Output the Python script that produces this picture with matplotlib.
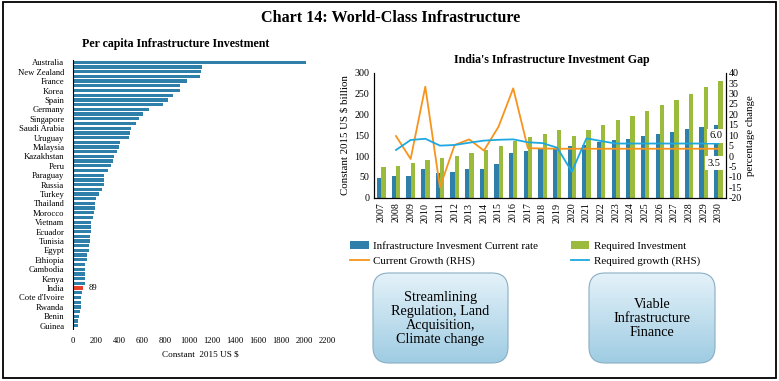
import numpy as np
import matplotlib
matplotlib.use("Agg")
import matplotlib.pyplot as plt
from matplotlib.patches import FancyBboxPatch, Rectangle

plt.rcParams['font.family'] = ['Liberation Serif', 'DejaVu Serif']
plt.rcParams['axes.unicode_minus'] = False

# left panel: per capita infrastructure investment (constant 2015 US $)
countries = ["Australia", "New Zealand", "France", "Korea", "Spain", "Germany",
             "Singapore", "Saudi Arabia", "Uruguay", "Malaysia", "Kazakhstan",
             "Peru", "Paraguay", "Russia", "Turkey", "Thailand", "Morocco",
             "Vietnam", "Ecuador", "Tunisia", "Egypt", "Ethiopia", "Cambodia",
             "Kenya", "India", "Cote d'Ivoire", "Rwanda", "Benin", "Guinea"]
per_capita = [2010, 1113, 1107, 1101, 984, 929, 926, 869, 825, 782, 661, 604,
              569, 546, 500, 495, 483, 411, 400, 380, 357, 351, 331, 302, 270,
              270, 270, 253, 230, 198, 196, 193, 187, 178, 161, 158, 155, 150,
              147, 141, 138, 124, 121, 109, 109, 106, 106, 106, 89, 78, 75, 72,
              69, 60, 52, 46, 43]
india_value = 89

# right panel: India's infrastructure investment gap
years = list(range(2007, 2031))
current_rate = [48, 52, 52, 70, 59, 62, 68, 70, 80, 107, 112, 116, 119, 124,
                127, 133, 138, 142, 147, 153, 158, 164, 170, 175]
required_inv = [74, 77, 84, 91, 96, 101, 108, 115, 125, 137, 146, 154, 162, 148,
                162, 175, 186, 197, 209, 222, 235, 250, 265, 281]
current_growth = [np.nan, 9.6, -1.4, 33.3, -15.0, 5.3, 8.0, 2.6, 14.1, 32.5, 3.8,
                  3.6, 3.5, 3.5, 3.5, 3.5, 3.5, 3.5, 3.5, 3.5, 3.5, 3.5, 3.5, 3.5]
required_growth = [np.nan, 2.9, 7.7, 8.3, 5.0, 5.3, 6.4, 7.4, 7.8, 8.0, 6.6, 6.2,
                   4.0, -7.5, 8.5, 7.2, 6.0, 6.0, 6.0, 6.0, 6.0, 6.0, 6.0, 6.0]

BAR_BLUE = "#2f7fab"
BAR_GREEN = "#9bbb3c"
ORANGE = "#f7941d"
LIGHT_BLUE = "#1ea8e0"

W, H = 779, 381
fig = plt.figure(figsize=(W / 100, H / 100), dpi=100)


def fx(px):
    return px / W


def fy(py):
    return 1 - py / H


fig.text(fx(391), fy(18), "Chart 14: World-Class Infrastructure",
         ha="center", va="center", fontsize=11.6, fontweight="bold")

# ---- left panel ----
ax1 = fig.add_axes([fx(72.7), fy(328.5), fx(327.7 - 72.7), (328.5 - 59.5) / H])
n = len(per_capita)
ypos = np.arange(n)
colors = [BAR_BLUE] * n
labels = [""] * n
labels[::2] = countries
india_idx = labels.index("India")
colors[india_idx] = "#e8402a"
ax1.barh(ypos, per_capita, height=0.7, color=colors)
ax1.set_ylim(n - 0.4, -0.6)
ax1.set_xlim(0, 2200)
ax1.set_yticks(ypos)
ax1.set_yticklabels(labels, fontsize=6.3)
ax1.set_xticks(np.arange(0, 2201, 200))
ax1.tick_params(axis="both", length=0, labelsize=6.2)
ax1.tick_params(axis="y", pad=6)
ax1.tick_params(axis="x", pad=6)
for s in ["top", "right", "bottom"]:
    ax1.spines[s].set_visible(False)
ax1.spines["left"].set_linewidth(0.8)
ax1.set_xlabel("Constant  2015 US $", fontsize=6.6, labelpad=4)
ax1.annotate(str(india_value), (per_capita[india_idx], india_idx),
             xytext=(4, 0), textcoords="offset points", va="center",
             fontsize=6.2)
fig.text(fx(176), fy(44), "Per capita Infrastructure Investment",
         ha="center", va="center", fontsize=8.6, fontweight="bold")

# ---- right panel ----
ax2 = fig.add_axes([fx(374), fy(197.7), fx(725.7 - 374), (197.7 - 72.7) / H])
x = np.arange(len(years))
bw = 0.29
b1 = ax2.bar(x - bw / 2, current_rate, width=bw, color=BAR_BLUE,
             label="Infrastructure Invesment Current rate")
b2 = ax2.bar(x + bw / 2, required_inv, width=bw, color=BAR_GREEN,
             label="Required Investment")
ax2.set_ylim(0, 300)
ax2.set_xlim(-0.5, len(years) - 0.5)
ax2.set_yticks(np.arange(0, 301, 50))
ax2.set_xticks(x)
ax2.set_xticklabels([str(y) for y in years], rotation=90, fontsize=7.2)
ax2.tick_params(axis="both", length=0, labelsize=7.2)
ax2.spines["top"].set_visible(False)
ax2.set_ylabel("Constant 2015 US $ billion", fontsize=7.8, labelpad=3)

ax3 = ax2.twinx()
l1, = ax3.plot(x, current_growth, color=ORANGE, lw=1.3,
               label="Current Growth (RHS)")
l2, = ax3.plot(x, required_growth, color=LIGHT_BLUE, lw=1.3,
               label="Required growth (RHS)")
ax3.set_ylim(-20, 40)
ax3.set_yticks(np.arange(-20, 41, 5))
ax3.tick_params(axis="y", length=0, labelsize=7.2, pad=2)
ax3.spines["top"].set_visible(False)
ax3.set_ylabel("percentage change", fontsize=7.8, labelpad=3)
box = dict(boxstyle="square,pad=0.25", fc="white", ec="none")
ax3.annotate(f"{required_growth[-1]:.1f}", (x[-1], required_growth[-1]),
             xytext=(-1.5, 5.5), textcoords="offset points", ha="center",
             va="center", fontsize=7.5, bbox=box)
ax3.annotate(f"{current_growth[-1]:.1f}", (x[-1], current_growth[-1]),
             xytext=(-3, -10.5), textcoords="offset points", ha="center",
             va="center", fontsize=7.5, bbox=box)
fig.text(fx(552), fy(60), "India's Infrastructure Investment Gap",
         ha="center", va="center", fontsize=8.6, fontweight="bold")

fig.legend(handles=[b1, l1, b2, l2], ncol=2, loc="upper left",
           bbox_to_anchor=(fx(340), fy(231)), frameon=False, fontsize=7.9,
           handlelength=1.7, handletextpad=0.4, columnspacing=3.0,
           labelspacing=0.5)

# ---- overlay for boxes and frame (pixel coordinates) ----
ov = fig.add_axes([0, 0, 1, 1], facecolor="none")
ov.set_xlim(0, W)
ov.set_ylim(H, 0)
ov.axis("off")

grad = np.linspace(0, 1, 100).reshape(-1, 1)
cmap = matplotlib.colors.LinearSegmentedColormap.from_list(
    "box", ["#e4f2f9", "#9fcce3"])
for (x0, x1, txt) in [(373, 508, "Streamlining\nRegulation, Land\nAcquisition,\nClimate change"),
                      (589, 715, "Viable\nInfrastructure\nFinance")]:
    y0, y1 = 273, 363
    patch = FancyBboxPatch((x0, y0), x1 - x0, y1 - y0,
                           boxstyle="round,pad=0,rounding_size=16",
                           fc="none", ec="#8aaec2", lw=0.8, zorder=3)
    ov.add_patch(patch)
    im = ov.imshow(grad, cmap=cmap, extent=(x0, x1, y1, y0), aspect="auto",
                   zorder=2)
    im.set_clip_path(patch)
    ov.text((x0 + x1) / 2, (y0 + y1) / 2, txt, ha="center", va="center",
            fontsize=10.2, linespacing=1.1, zorder=4)
ov.set_xlim(0, W)
ov.set_ylim(H, 0)

ov.add_patch(Rectangle((3, 2), W - 6, H - 5, fill=False, ec="black", lw=1.3))

fig.savefig("out.png", dpi=100)
